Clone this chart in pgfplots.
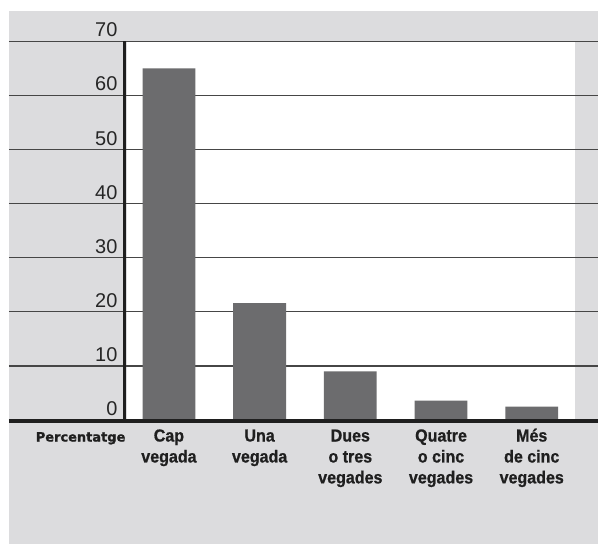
\documentclass[border=0pt]{standalone}
\usepackage{fontspec}
\setmainfont{Liberation Sans}
\newfontfamily\heavyfont{DejaVu Sans Bold}[FakeBold=1.2]
\newfontfamily\catfont{Liberation Sans Bold}[FakeStretch=0.92, FakeBold=0.8]
\usepackage{pgfplots}
\pgfplotsset{compat=1.18}

\definecolor{bg}{RGB}{220,220,222}
\definecolor{barc}{RGB}{108,108,110}
\definecolor{gridc}{RGB}{70,70,70}

\newcommand{\cat}[1]{\begin{tabular}[t]{@{}c@{}}#1\end{tabular}}

\begin{document}
\begin{tikzpicture}
% page and panel background (1pt = 1px of the reference)
\fill[white] (-9pt,-125.5pt) rectangle (591pt,421.5pt);
\fill[bg] (0pt,-124.5pt) rectangle (591pt,410.5pt);
\fill[white] (118pt,0pt) rectangle (568pt,380pt);

\begin{axis}[
    at={(0pt,0pt)}, anchor=south west,
    scale only axis, width=591pt, height=380pt,
    xmin=-1.7637, xmax=4.7308, ymin=0, ymax=70,
    axis line style={draw=none},
    major tick length=0pt,
    ytick={0,10,...,70},
    xtick={0,1,2,3,4},
    xticklabels={
        {\cat{Cap\\vegada}},
        {\cat{Una\\vegada}},
        {\cat{Dues\\o tres\\vegades}},
        {\cat{Quatre\\o cinc\\vegades}},
        {\cat{Més\\de cinc\\vegades}}},
    ymajorgrids,
    grid style={gridc, line width=1.1pt},
    /pgf/number format/assume math mode=true,
    yticklabel style={anchor=base east, inner sep=0pt, xshift=109pt, yshift=4.5pt,
        font=\fontsize{20}{22}\selectfont, text=black!85},
    xticklabel style={anchor=base, inner sep=0pt, yshift=-21.5pt,
        font=\fontsize{17.5}{21}\selectfont\catfont, text=black!88},
    clip=false,
]
\addplot[ybar, bar width=53pt, fill=barc, draw=none]
    coordinates {(0,65) (1,21.6) (2,9) (3,3.6) (4,2.5)};
\end{axis}

% axis lines
\draw[line width=3.5pt, black!88] (116pt,0pt) -- (116pt,380pt);
\draw[line width=4pt, black!88] (0pt,-0.5pt) -- (591pt,-0.5pt);
\node[anchor=base east, inner sep=0pt, text=black!88,
      font=\fontsize{13}{15}\selectfont\heavyfont]
      at (117pt,-21.5pt) {Percentatge};
\end{tikzpicture}
\end{document}
